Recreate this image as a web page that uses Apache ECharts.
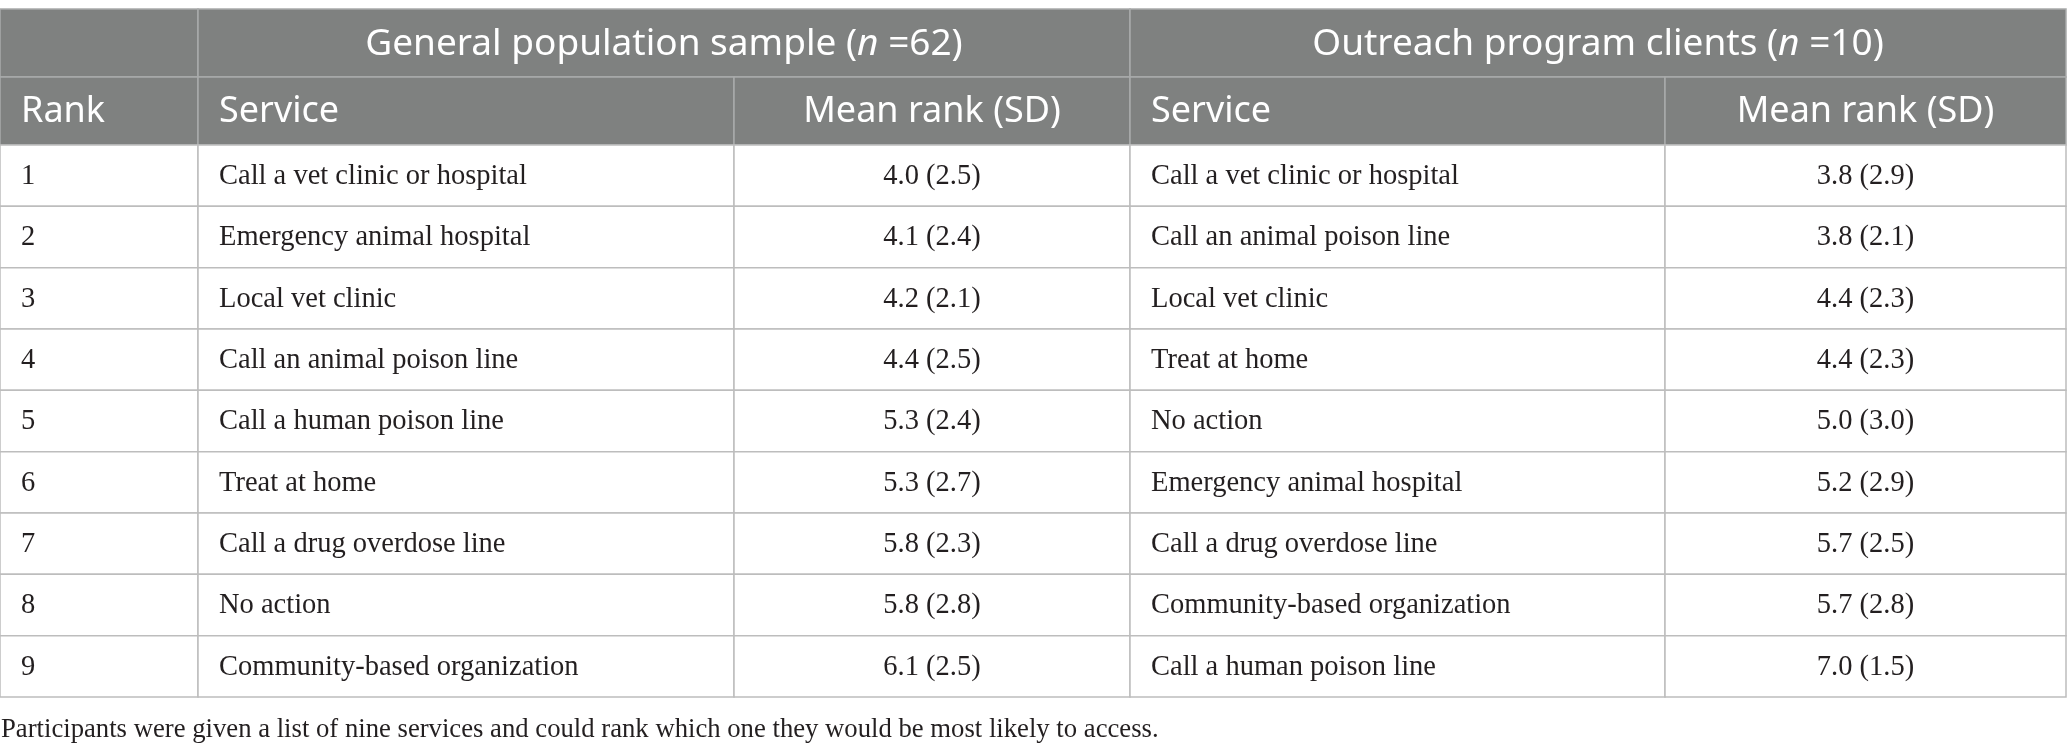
<!DOCTYPE html>
<html>
<head>
<meta charset="utf-8">
<title>Mean rank of services</title>
<script src="https://cdn.jsdelivr.net/npm/echarts@6/dist/echarts.min.js"></script>
<style>
  html, body { margin: 0; padding: 0; background: #fff; }
  #chart { width: 2067px; height: 754px; }
</style>
</head>
<body>
<div id="chart"></div>
<script>
// table values
const ranks = [1, 2, 3, 4, 5, 6, 7, 8, 9];

const generalServices = [
  'Call a vet clinic or hospital',
  'Emergency animal hospital',
  'Local vet clinic',
  'Call an animal poison line',
  'Call a human poison line',
  'Treat at home',
  'Call a drug overdose line',
  'No action',
  'Community-based organization'
];
const generalMeans = [4.0, 4.1, 4.2, 4.4, 5.3, 5.3, 5.8, 5.8, 6.1];
const generalSD = [2.5, 2.4, 2.1, 2.5, 2.4, 2.7, 2.3, 2.8, 2.5];

const outreachServices = [
  'Call a vet clinic or hospital',
  'Call an animal poison line',
  'Local vet clinic',
  'Treat at home',
  'No action',
  'Emergency animal hospital',
  'Call a drug overdose line',
  'Community-based organization',
  'Call a human poison line'
];
const outreachMeans = [3.8, 3.8, 4.4, 4.4, 5.0, 5.2, 5.7, 5.7, 7.0];
const outreachSD = [2.9, 2.1, 2.3, 2.3, 3.0, 2.9, 2.5, 2.8, 1.5];

const groupTitles = ['General population sample ({i|n} =62)', 'Outreach program clients ({i|n} =10)'];
const columnTitles = ['Rank', 'Service', 'Mean rank (SD)', 'Service', 'Mean rank (SD)'];
const note = 'Participants were given a list of nine services and could rank which one they would be most likely to access.';

// layout
const colEdges = [0, 198, 734, 1130, 1665, 2066];
const rowHeights = [68, 68].concat(ranks.map(() => 61.33));
const rowEdges = rowHeights.reduce((acc, h) => { acc.push(acc[acc.length - 1] + h); return acc; }, [0]);
const totalHeight = rowEdges[rowEdges.length - 1];

const headFont = '"Noto Sans", "Open Sans", sans-serif';
const bodyFont = '"Liberation Serif", "Times New Roman", serif';
const groupSize = 37;
const headSize = 36;
const bodySize = 28.5;
const fmt = (m, sd) => m.toFixed(1) + ' (' + sd.toFixed(1) + ')';

// cells: c0..c1 column span, r row
const cells = [];
cells.push({ c0: 0, c1: 1, r: 0, text: '', align: 'left' });
cells.push({ c0: 1, c1: 3, r: 0, text: groupTitles[0], align: 'center' });
cells.push({ c0: 3, c1: 5, r: 0, text: groupTitles[1], align: 'center' });
columnTitles.forEach((t, i) => {
  cells.push({ c0: i, c1: i + 1, r: 1, text: t, align: (i === 2 || i === 4) ? 'center' : 'left' });
});
ranks.forEach((rank, i) => {
  const r = i + 2;
  cells.push({ c0: 0, c1: 1, r, text: String(rank), align: 'left' });
  cells.push({ c0: 1, c1: 2, r, text: generalServices[i], align: 'left' });
  cells.push({ c0: 2, c1: 3, r, text: fmt(generalMeans[i], generalSD[i]), align: 'center' });
  cells.push({ c0: 3, c1: 4, r, text: outreachServices[i], align: 'left' });
  cells.push({ c0: 4, c1: 5, r, text: fmt(outreachMeans[i], outreachSD[i]), align: 'center' });
});

function renderItem(params, api) {
  const c = cells[params.dataIndex];
  const p0 = api.coord([colEdges[c.c0], rowEdges[c.r]]);
  const p1 = api.coord([colEdges[c.c1], rowEdges[c.r + 1]]);
  const w = p1[0] - p0[0];
  const h = p1[1] - p0[1];
  const header = c.r < 2;
  const size = c.r === 0 ? groupSize : (header ? headSize : bodySize);
  const tx = c.align === 'center' ? p0[0] + w / 2 : p0[0] + 21;
  return {
    type: 'group',
    children: [
      {
        type: 'rect',
        shape: { x: p0[0], y: p0[1], width: w, height: h },
        style: {
          fill: header ? '#7f8180' : '#ffffff',
          stroke: header ? '#a9abaa' : '#bdbdbd',
          lineWidth: 1.5
        }
      },
      {
        type: 'text',
        style: {
          x: tx,
          y: p0[1] + h / 2 + 1,
          text: c.text,
          align: c.align,
          verticalAlign: 'middle',
          fontFamily: header ? headFont : bodyFont,
          fontSize: size,
          fill: header ? '#ffffff' : '#231f20',
          rich: {
            i: { fontFamily: headFont, fontSize: size, fontStyle: 'italic', fill: '#ffffff' }
          }
        }
      }
    ]
  };
}

const chart = echarts.init(document.getElementById('chart'), null, { renderer: 'canvas' });

chart.setOption({
  animation: false,
  backgroundColor: '#ffffff',
  title: {
    text: note,
    left: 1,
    top: 716,
    padding: 0,
    textStyle: { fontFamily: bodyFont, fontSize: 26.7, fontWeight: 'normal', color: '#231f20' }
  },
  grid: { left: 0, right: 1, top: 9, height: totalHeight },
  xAxis: { type: 'value', min: 0, max: colEdges[colEdges.length - 1], show: false },
  yAxis: { type: 'value', min: 0, max: totalHeight, inverse: true, show: false },
  series: [{
    type: 'custom',
    renderItem: renderItem,
    data: cells.map(c => [colEdges[c.c0], rowEdges[c.r]]),
    silent: true
  }]
});
</script>
</body>
</html>
